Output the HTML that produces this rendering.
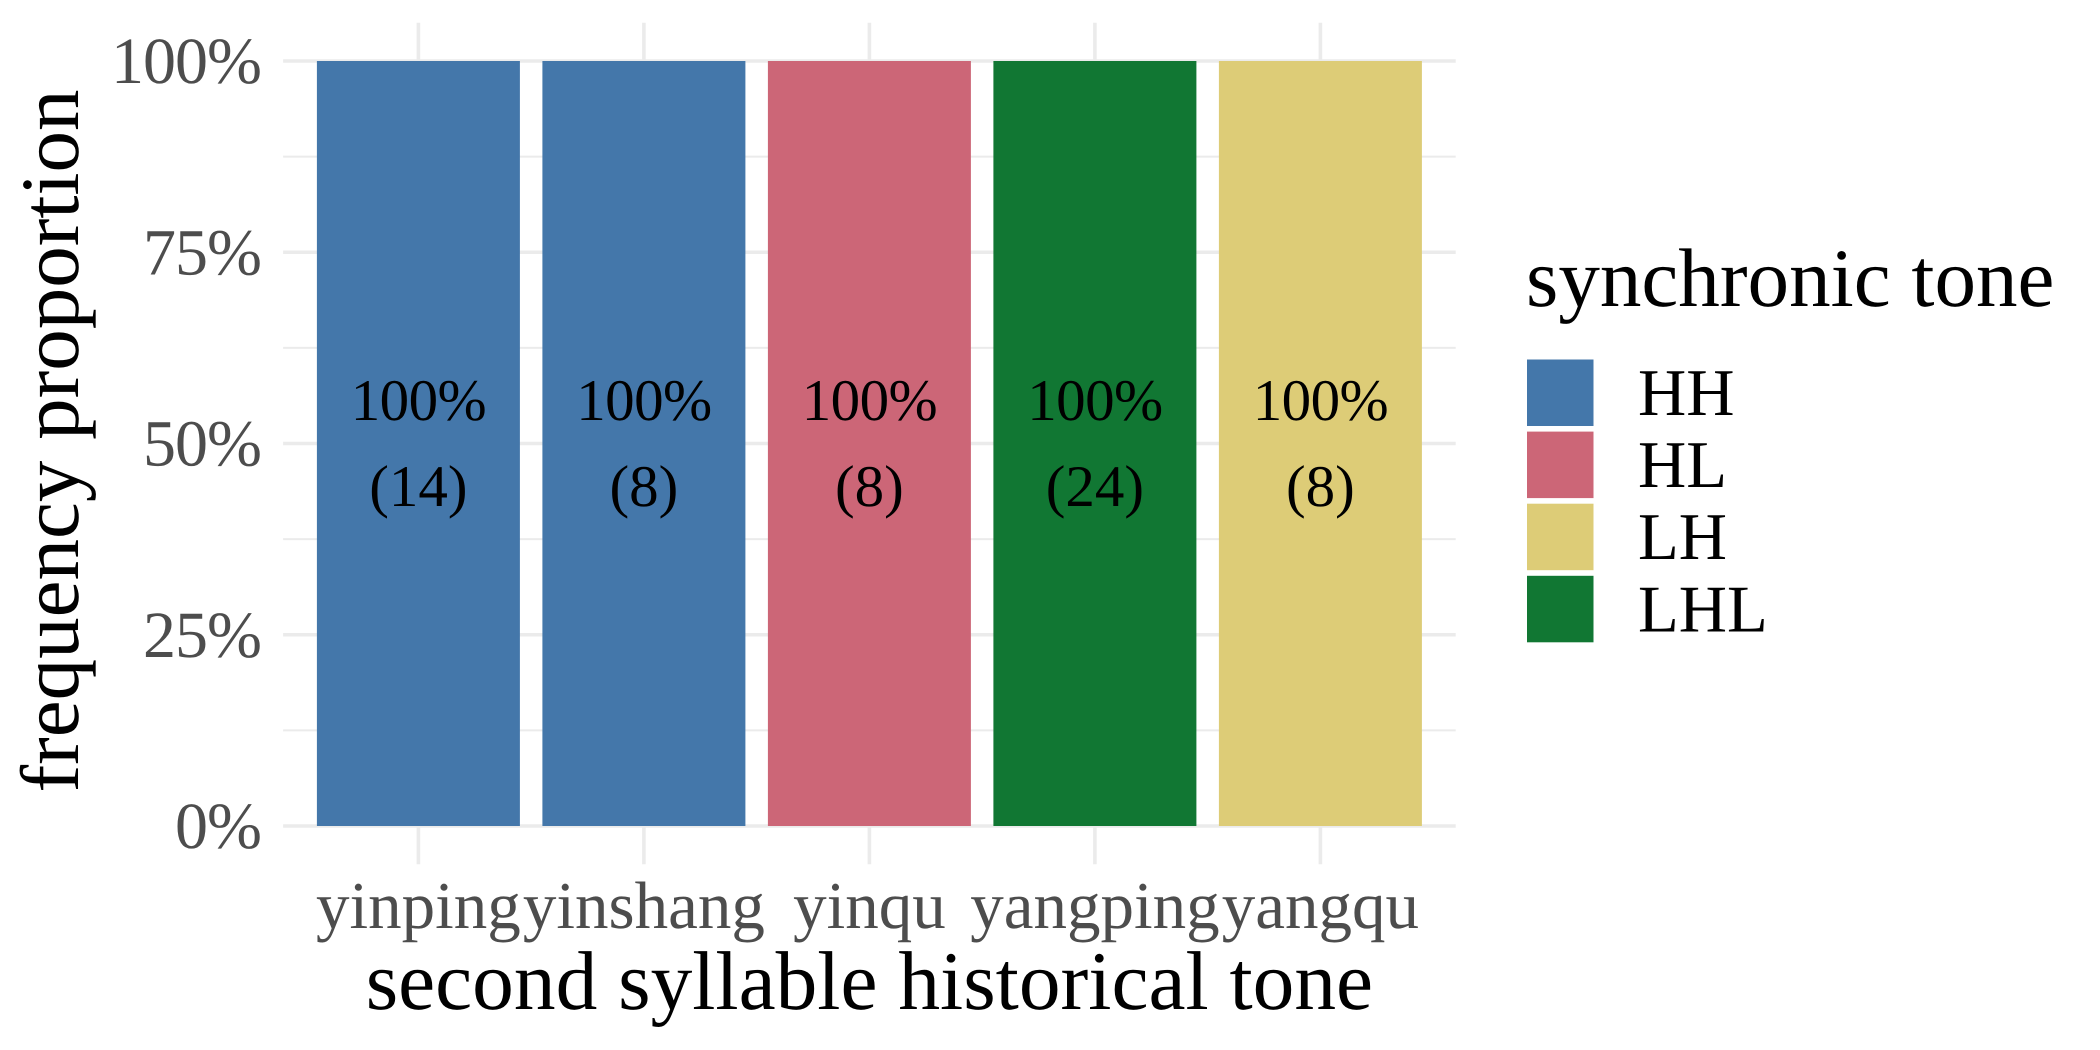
<!DOCTYPE html>
<html lang="en">
<head>
<meta charset="utf-8">
<title>Synchronic tone by second syllable historical tone</title>
<style>
html,body{margin:0;padding:0;background:#fff;}
svg{display:block;font-family:"Liberation Serif","Times New Roman",serif;text-rendering:geometricPrecision;}
</style>
</head>
<body>
<svg id="chart" xmlns="http://www.w3.org/2000/svg" width="2100" height="1050" viewBox="0 0 2100 1050"></svg>
<script>
const categories = ['yinping', 'yinshang', 'yinqu', 'yangping', 'yangqu'];
const proportions = [1, 1, 1, 1, 1];
const counts = [14, 8, 8, 24, 8];
const barTones = ['HH', 'HH', 'HL', 'LHL', 'LH'];
const yTicks = [0, 0.25, 0.5, 0.75, 1];
const yMinorTicks = [0.125, 0.375, 0.625, 0.875];
const yTickLabels = ['0%', '25%', '50%', '75%', '100%'];
const legendTones = ['HH', 'HL', 'LH', 'LHL'];
const toneColors = {HH: '#4477AA', HL: '#CC6677', LH: '#DDCC77', LHL: '#117733'};

const SVG_NS = 'http://www.w3.org/2000/svg';
const svg = document.getElementById('chart');
const GRID = '#ebebeb';
const TICK_TEXT = '#4d4d4d';

// Panel geometry
const panel = {left: 283.1, right: 1455.7, top: 22.75, bottom: 864.25};
const plotTop = 61;
const plotBottom = 826;
const firstCentre = 418.4;
const step = 225.5;
const barWidth = 203;

function xScale(i) {
  return firstCentre + i * step;
}
function yScale(v) {
  return plotBottom - v * (plotBottom - plotTop);
}

function make(tag, attrs, text) {
  const el = document.createElementNS(SVG_NS, tag);
  for (const k in attrs) el.setAttribute(k, attrs[k]);
  if (text !== undefined) el.textContent = text;
  svg.appendChild(el);
  return el;
}

// Horizontal minor grid
yMinorTicks.forEach(function (v) {
  const el = make('line', {x1: panel.left, x2: panel.right, y1: yScale(v), y2: yScale(v), stroke: GRID, 'stroke-width': 1.9});
  
  
});

// Horizontal major grid
yTicks.forEach(function (v) {
  const el = make('line', {x1: panel.left, x2: panel.right, y1: yScale(v), y2: yScale(v), stroke: GRID, 'stroke-width': 3.6});
  
  
});

// Vertical major grid
categories.forEach(function (c, i) {
  const el = make('line', {x1: xScale(i), x2: xScale(i), y1: panel.top, y2: panel.bottom, stroke: GRID, 'stroke-width': 3.6});
  
  
});

// Bars
categories.forEach(function (c, i) {
  const top = yScale(proportions[i]);
  const el = make('rect', {x: xScale(i) - barWidth / 2, y: top, width: barWidth, height: yScale(0) - top, fill: toneColors[barTones[i]]});
  
  
});

// Bar labels
categories.forEach(function (c, i) {
  const mid = yScale(proportions[i] / 2);
  const pct = make('text', {x: xScale(i), y: mid - 23.5, 'text-anchor': 'middle', 'font-size': 59, 'letter-spacing': -0.6, fill: '#000'}, Math.round(proportions[i] * 100) + '%');
  
  
  const cnt = make('text', {x: xScale(i), y: mid + 62.5, 'text-anchor': 'middle', 'font-size': 59, fill: '#000'}, '(' + counts[i] + ')');
  
  
});

// Y tick labels
yTicks.forEach(function (v, i) {
  const el = make('text', {x: 261, y: yScale(v) + 22, 'text-anchor': 'end', 'font-size': 66, 'letter-spacing': -1, fill: TICK_TEXT}, yTickLabels[i]);
  
  
});

// X tick labels
categories.forEach(function (c, i) {
  const el = make('text', {x: xScale(i), y: 928, 'text-anchor': 'middle', 'font-size': 67, fill: TICK_TEXT}, c);
  
  
});

// Axis titles
const xTitle = make('text', {x: 869.4, y: 1009, 'text-anchor': 'middle', 'font-size': 83.4, fill: '#000'}, 'second syllable historical tone');



const yTitle = make('text', {transform: 'translate(78 441) rotate(-90)', 'text-anchor': 'middle', 'font-size': 83, fill: '#000'}, 'frequency proportion');



// Legend
const legendTitle = make('text', {x: 1526, y: 306, 'font-size': 83.1, fill: '#000'}, 'synchronic tone');



legendTones.forEach(function (t, i) {
  const keyTop = 359.5 + i * 72.1;
  const key = make('rect', {x: 1527, y: keyTop, width: 66.5, height: 66.5, fill: toneColors[t]});
  
  
  const lab = make('text', {x: 1638, y: keyTop + 55.5, 'font-size': 66.8, fill: '#000'}, t);
  
  
});
</script>
</body>
</html>
